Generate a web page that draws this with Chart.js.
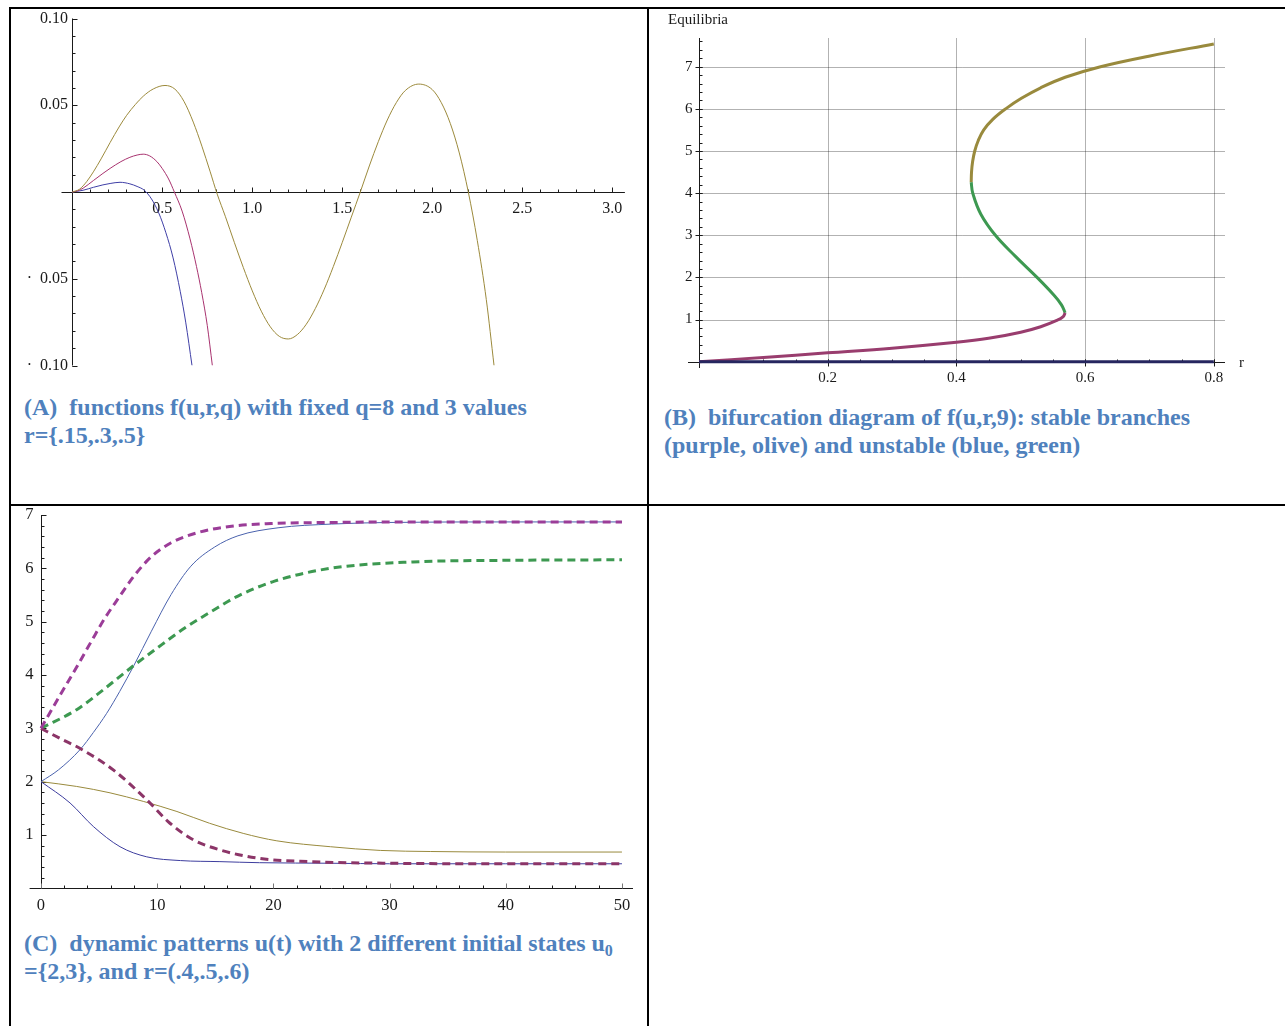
<!DOCTYPE html>
<html>
<head>
<meta charset="utf-8">
<script src="https://cdn.jsdelivr.net/npm/chart.js@4.4.1/dist/chart.umd.min.js"></script>
<style>
  body { margin: 0; background: #fff; }
  #page { position: relative; width: 1285px; height: 1026px; overflow: hidden; }
  .rule { position: absolute; background: #000; }
  canvas { position: absolute; }
  .cap { position: absolute; margin: 0; font: bold 24px/27.5px "Liberation Serif", "Times New Roman", serif; color: #4f81bd; white-space: pre; }
  .cap sub { font-size: 16px; line-height: 0; vertical-align: -5px; }
</style>
</head>
<body>
<div id="page">
  <div class="rule" style="left:9px;top:7px;width:1276px;height:2px"></div>
  <div class="rule" style="left:9px;top:7px;width:2px;height:1019px"></div>
  <div class="rule" style="left:647px;top:7px;width:2px;height:1019px"></div>
  <div class="rule" style="left:9px;top:504px;width:1276px;height:2px"></div>

  <canvas id="chartA" width="638" height="385" style="left:10px;top:8px"></canvas>
  <canvas id="chartB" width="598" height="385" style="left:650px;top:10px"></canvas>
  <canvas id="chartC" width="638" height="415" style="left:10px;top:507px"></canvas>

  <div class="cap" style="left:24px;top:394px">(A)  functions f(u,r,q) with fixed q=8 and 3 values
r={.15,.3,.5}</div>
  <div class="cap" style="left:664px;top:404px">(B)  bifurcation diagram of f(u,r,9): stable branches
(purple, olive) and unstable (blue, green)</div>
  <div class="cap" style="left:24px;top:930px">(C)  dynamic patterns u(t) with 2 different initial states u<sub>0</sub>
={2,3}, and r=(.4,.5,.6)</div>
</div>

<script>
// (A) f(u,r,q), q = 8, r = .15 / .3 / .5
const aBlueU = [0, 0.06, 0.117, 0.17, 0.21, 0.265, 0.32, 0.36, 0.40, 0.44, 0.48, 0.52, 0.56, 0.6, 0.63, 0.665];
const aBlueF = [0, 0.001, 0.0027, 0.0041, 0.0049, 0.0056, 0.0047, 0.0032, 0.001, -0.004, -0.012, -0.0235, -0.038, -0.0575, -0.075, -0.1];
const aPurpleU = [0, 0.03, 0.06, 0.117, 0.17, 0.21, 0.27, 0.32, 0.36, 0.394, 0.43, 0.47, 0.5, 0.535, 0.567, 0.61, 0.654, 0.69, 0.719, 0.75, 0.778];
const aPurpleF = [0, 0.0007, 0.0022, 0.0066, 0.0107, 0.0136, 0.0175, 0.0200, 0.0213, 0.0218, 0.0208, 0.0175, 0.0135, 0.0075, 0,
                  -0.011, -0.027, -0.043, -0.058, -0.077, -0.1];
const aOliveU = [0, 0.04, 0.08, 0.117, 0.16, 0.21, 0.26, 0.302, 0.35, 0.394, 0.45, 0.515, 0.57, 0.62, 0.672, 0.72, 0.765, 0.805,
                 0.85, 0.9, 0.95, 1.0, 1.05, 1.1, 1.15, 1.2, 1.25, 1.3, 1.35, 1.4, 1.45, 1.5, 1.55, 1.6,
                 1.65, 1.7, 1.75, 1.8, 1.85, 1.925, 2.0, 2.05, 2.1, 2.15, 2.2, 2.25, 2.3, 2.343];
const aOliveF = [0, 0.0016, 0.006, 0.0116, 0.0191, 0.0285, 0.0375, 0.0442, 0.0504, 0.0552, 0.0594, 0.0614, 0.0593, 0.0523, 0.0403,
                 0.0264, 0.012, -0.0012, -0.014, -0.029, -0.0435, -0.057, -0.0687, -0.0777, -0.0832, -0.0847, -0.0822, -0.0762,
                 -0.0672, -0.056, -0.043, -0.029, -0.0145, 0, 0.015, 0.029, 0.0415, 0.0515, 0.0585, 0.0622, 0.059, 0.0515,
                 0.0395, 0.0225, 0, -0.028, -0.062, -0.1];
const aXTicks = [0.5, 1.0, 1.5, 2.0, 2.5, 3.0];
const aXLabels = ['0.5', '1.0', '1.5', '2.0', '2.5', '3.0'];
const aYTicks = [0.1, 0.05, -0.05, -0.1];
const aYLabels = ['0.10', '0.05', '\u00b7  0.05', '\u00b7  0.10'];

// (B) equilibria of f(u,r,9) against r
const bPurpleR = [0, 0.1, 0.2, 0.3, 0.4, 0.45, 0.5, 0.531, 0.556, 0.566, 0.569];
const bPurpleU = [0, 0.10, 0.21, 0.32, 0.46, 0.555, 0.70, 0.83, 0.98, 1.07, 1.16];
const bGreenR = [0.569, 0.5633, 0.5503, 0.5253, 0.4918, 0.4606, 0.438, 0.4254, 0.423];
const bGreenU = [1.16, 1.35, 1.6, 2.0, 2.5, 3.0, 3.5, 4.0, 4.26];
const bOliveR = [0.423, 0.4235, 0.4252, 0.4285, 0.434, 0.4425, 0.4565, 0.4765, 0.501, 0.531, 0.569, 0.624, 0.699, 0.8];
const bOliveU = [4.26, 4.5, 4.75, 5.0, 5.25, 5.5, 5.75, 6.0, 6.25, 6.5, 6.75, 7.0, 7.25, 7.54];
const bBlueR = [0, 0.8];
const bBlueU = [0, 0];
const bXTicks = [0.2, 0.4, 0.6, 0.8];
const bXLabels = ['0.2', '0.4', '0.6', '0.8'];
const bYTicks = [1, 2, 3, 4, 5, 6, 7];
const bYLabels = ['1', '2', '3', '4', '5', '6', '7'];

// (C) u(t) for u0 = 2, 3
const cUpPurpleT = [0, 1.64, 3.18, 4.33, 5.48, 6.63, 8.06, 9.5, 11.2, 13.5, 16.4, 19.8, 25, 30, 40, 50];
const cUpPurpleU = [3.0, 3.62, 4.19, 4.63, 5.06, 5.43, 5.87, 6.22, 6.48, 6.67, 6.79, 6.84, 6.86, 6.87, 6.87, 6.87];
const cDownPurpleT = [0, 1.64, 3.3, 6.22, 9.1, 11.1, 13.1, 15.4, 18.8, 23.1, 30, 40, 50];
const cDownPurpleU = [3.0, 2.81, 2.63, 2.22, 1.66, 1.22, 0.91, 0.72, 0.56, 0.50, 0.47, 0.46, 0.46];
const cGreenT = [0, 3.07, 5.4, 8.0, 9.78, 12.37, 14.66, 16.95, 20.1, 24.9, 32, 40, 50];
const cGreenU = [3.0, 3.35, 3.73, 4.18, 4.47, 4.88, 5.19, 5.48, 5.76, 6.0, 6.12, 6.15, 6.16];
const cUpBlueT = [0, 1.5, 3.36, 4.5, 5.65, 6.77, 8.0, 9.5, 11.2, 12.9, 14.95, 16.95, 20.4, 25, 30, 40, 50];
const cUpBlueU = [2.0, 2.22, 2.60, 2.92, 3.28, 3.69, 4.18, 4.82, 5.51, 6.04, 6.40, 6.61, 6.76, 6.83, 6.86, 6.87, 6.87];
const cDownBlueT = [0, 2.5, 4.5, 6.8, 9.1, 12.0, 15.4, 18.8, 25, 30, 40, 50];
const cDownBlueU = [2.0, 1.60, 1.16, 0.78, 0.59, 0.52, 0.50, 0.48, 0.47, 0.46, 0.46, 0.46];
const cOliveT = [0, 3.07, 5.94, 8.8, 11.7, 14.5, 17.4, 20.3, 24.9, 29.2, 33.5, 40, 50];
const cOliveU = [2.0, 1.91, 1.79, 1.63, 1.44, 1.22, 1.03, 0.89, 0.78, 0.71, 0.69, 0.68, 0.68];
const cXTicks = [0, 10, 20, 30, 40, 50];
const cXLabels = ['0', '10', '20', '30', '40', '50'];
const cYTicks = [1, 2, 3, 4, 5, 6, 7];
const cYLabels = ['1', '2', '3', '4', '5', '6', '7'];

const pts = (xs, ys) => xs.map((x, i) => ({ x, y: ys[i] }));

// Mathematica-style axes through the origin, ticks and labels drawn off the chart's own scales
const mmaAxes = {
  id: 'mmaAxes',
  beforeDatasetsDraw(chart, args, o) {
    const ctx = chart.ctx;
    const xs = chart.scales.x, ys = chart.scales.y;
    const X = v => xs.getPixelForValue(v);
    const Y = v => ys.getPixelForValue(v);
    const seg = (x1, y1, x2, y2) => { ctx.beginPath(); ctx.moveTo(x1, y1); ctx.lineTo(x2, y2); ctx.stroke(); };
    const x0 = Math.round(X(0)) + 0.5, y0 = Math.round(Y(0)) + 0.5;
    ctx.save();
    if (o.grid) {
      ctx.strokeStyle = o.grid;
      ctx.lineWidth = 1;
      o.xTicks.forEach(v => { const x = Math.round(X(v)) + 0.5; seg(x, y0, x, Y(ys.max)); });
      o.yTicks.forEach(v => { const y = Math.round(Y(v)) + 0.5; seg(x0, y, X(xs.max), y); });
    }
    ctx.strokeStyle = '#1a1a1a';
    ctx.lineWidth = 1;
    seg(X(xs.min), y0, X(xs.max), y0);
    seg(x0, Y(ys.min), x0, Y(ys.max));

    // minor ticks
    for (let i = Math.ceil(xs.min / o.xMinor); i * o.xMinor <= xs.max + 1e-9; i++) {
      if (i === 0) continue;
      const x = Math.round(X(i * o.xMinor)) + 0.5;
      seg(x, y0 - o.minorX[0], x, y0 + o.minorX[1]);
    }
    for (let i = Math.ceil(ys.min / o.yMinor); i * o.yMinor <= ys.max + 1e-9; i++) {
      if (i === 0) continue;
      const y = Math.round(Y(i * o.yMinor)) + 0.5;
      seg(x0 - o.minorY[0], y, x0 + o.minorY[1], y);
    }
    // major ticks
    ctx.strokeStyle = o.majorXColor || '#1a1a1a';
    o.xTicks.forEach(v => { const x = Math.round(X(v)) + 0.5; seg(x, y0 - o.majorX[0], x, y0 + o.majorX[1]); });
    ctx.strokeStyle = '#1a1a1a';
    o.yTicks.forEach(v => { const y = Math.round(Y(v)) + 0.5; seg(x0 - o.majorY[0], y, x0 + o.majorY[1], y); });

    // tick labels
    ctx.fillStyle = '#1a1a1a';
    ctx.font = o.font;
    ctx.textBaseline = 'middle';
    ctx.textAlign = 'center';
    o.xTicks.forEach((v, i) => ctx.fillText(o.xLabels[i], X(v), y0 + o.xLabelGap));
    ctx.textAlign = 'right';
    o.yTicks.forEach((v, i) => ctx.fillText(o.yLabels[i], x0 - o.yLabelGap, Y(v)));
    (o.notes || []).forEach(n => {
      ctx.textAlign = 'left';
      ctx.fillText(n.text, X(n.x) + n.dx, Y(n.y) + n.dy);
    });
    ctx.restore();
  }
};

function makeChart(id, datasets, xRange, yRange, padding, axes, smooth) {
  return new Chart(document.getElementById(id), {
    type: 'scatter',
    data: {
      datasets: datasets.map(d => Object.assign({
        showLine: true,
        pointRadius: 0,
        borderWidth: 1,
        fill: false,
        cubicInterpolationMode: smooth ? 'monotone' : 'default',
        tension: smooth ? 0 : 0.4
      }, d))
    },
    options: {
      responsive: false,
      animation: false,
      devicePixelRatio: 1,
      events: [],
      layout: { padding },
      scales: {
        x: { type: 'linear', min: xRange[0], max: xRange[1], display: false },
        y: { type: 'linear', min: yRange[0], max: yRange[1], display: false }
      },
      plugins: { legend: { display: false }, tooltip: { enabled: false }, mmaAxes: axes }
    },
    plugins: [mmaAxes]
  });
}

makeChart('chartA', [
  { data: pts(aOliveU, aOliveF), borderColor: '#9c8a3c' },
  { data: pts(aPurpleU, aPurpleF), borderColor: '#a8336f' },
  { data: pts(aBlueU, aBlueF), borderColor: '#3f3fa6' }
], [-0.06, 3.07], [-0.1, 0.1], { left: 51.5, top: 10.5, right: 23.1, bottom: 27.5 }, {
  xTicks: aXTicks, xLabels: aXLabels, yTicks: aYTicks, yLabels: aYLabels,
  xMinor: 0.1, yMinor: 0.01,
  majorX: [5, 0], minorX: [3, 0], majorY: [0, 5], minorY: [0, 3],
  font: '16px "Liberation Serif"', xLabelGap: 16.5, yLabelGap: 4.5
}, true);

makeChart('chartB', [
  { data: pts(bBlueR, bBlueU), borderColor: '#26265f', borderWidth: 3 },
  { data: pts(bPurpleR, bPurpleU), borderColor: '#993d6e', borderWidth: 3 },
  { data: pts(bGreenR, bGreenU), borderColor: '#3d9951', borderWidth: 3 },
  { data: pts(bOliveR, bOliveU), borderColor: '#998a3d', borderWidth: 3 }
], [-0.0171, 0.8174], [-0.1495, 7.6816], { left: 38, top: 28, right: 23, bottom: 27 }, {
  xTicks: bXTicks, xLabels: bXLabels, yTicks: bYTicks, yLabels: bYLabels,
  xMinor: 0.05, yMinor: 0.2,
  majorX: [3, 4], minorX: [3, 0], majorY: [4, 3], minorY: [0, 3],
  grid: 'rgba(0,0,0,0.3)',
  font: '15px "Liberation Serif"', xLabelGap: 15.5, yLabelGap: 7,
  notes: [
    { text: 'Equilibria', x: 0, y: 7.6816, dx: -31, dy: -18 },
    { text: 'r', x: 0.8174, y: 0, dx: 14, dy: 1 }
  ]
}, false);

makeChart('chartC', [
  { data: pts(cUpPurpleT, cUpPurpleU), borderColor: '#9b3d98', borderWidth: 3, borderDash: [8, 5] },
  { data: pts(cDownPurpleT, cDownPurpleU), borderColor: '#8c3568', borderWidth: 3, borderDash: [8, 5] },
  { data: pts(cGreenT, cGreenU), borderColor: '#3d9951', borderWidth: 3, borderDash: [8, 5] },
  { data: pts(cUpBlueT, cUpBlueU), borderColor: '#4a62ad' },
  { data: pts(cDownBlueT, cDownBlueU), borderColor: '#3d3d9e' },
  { data: pts(cOliveT, cOliveU), borderColor: '#998a3d' }
], [-0.981, 50.95], [0, 7], { left: 19.6, top: 8, right: 15, bottom: 33.7 }, {
  xTicks: cXTicks, xLabels: cXLabels, yTicks: cYTicks, yLabels: cYLabels,
  xMinor: 2, yMinor: 0.2,
  majorX: [5, 0], minorX: [3, 0], majorY: [0, 5], minorY: [0, 3],
  majorXColor: '#777',
  font: '16.5px "Liberation Serif"', xLabelGap: 17.5, yLabelGap: 8
}, true);
</script>
</body>
</html>
